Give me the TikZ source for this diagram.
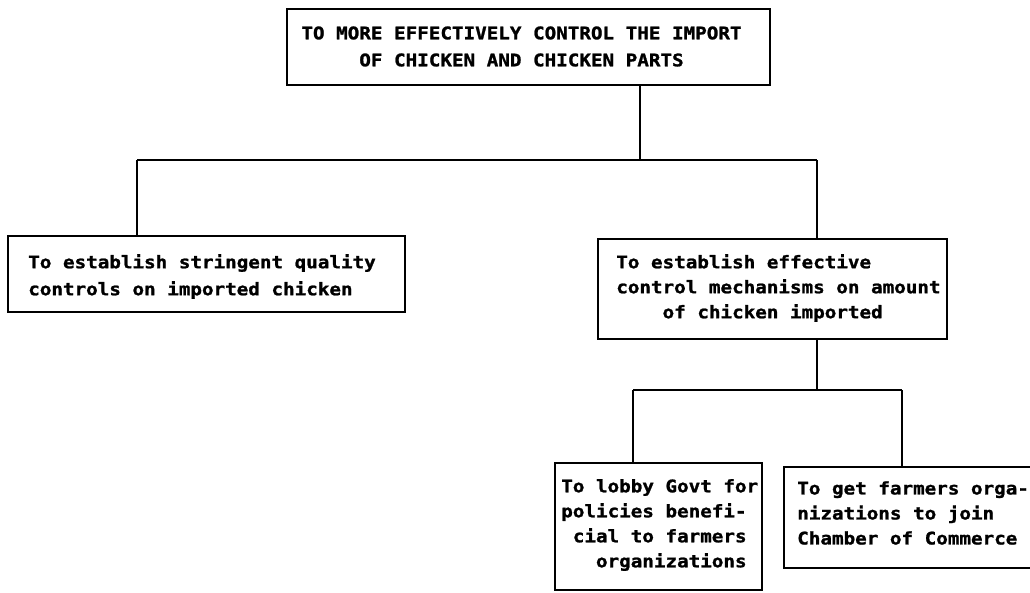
\documentclass[tikz,border=0pt]{standalone}
\usepackage{fontspec}
\newfontfamily\typewriter[FakeStretch=1.11, FakeBold=1.3]{DejaVu Sans Mono Bold}
\begin{document}
\begin{tikzpicture}[x=0.75pt, y=-0.75pt,
  boxshape/.style={draw, line width=1.8pt, rectangle, inner sep=0pt},
  txt/.style={inner sep=0pt, font=\typewriter\fontsize{13}{18.75}\selectfont},
  widetxt/.style={txt, font=\typewriter\fontsize{13}{20.25}\selectfont},
  link/.style={line width=1.8pt}]
\useasboundingbox (0,0) rectangle (1030,592);

% goal box
\node[boxshape, minimum width=483*0.75pt, minimum height=76*0.75pt] (goal) at (528.5,47) {};
\node[widetxt, align=center] (goaltext) at (521.5,46.5)
  {TO MORE EFFECTIVELY CONTROL THE IMPORT\\OF CHICKEN AND CHICKEN PARTS};

% quality objective
\node[boxshape, minimum width=397*0.75pt, minimum height=76*0.75pt] (quality) at (206.5,274) {};
\node[widetxt, align=left, anchor=west] (qualitytext) at (28,276.5)
  {To establish stringent quality\\controls on imported chicken};

% amount objective
\node[boxshape, minimum width=349*0.75pt, minimum height=100*0.75pt] (amount) at (772.5,289) {};
\node[txt, align=left, anchor=west] (amounttext) at (616,288)
  {To establish effective\\control mechanisms on amount\\\phantom{xxxx}of chicken imported};

% lobby activity
\node[boxshape, minimum width=207*0.75pt, minimum height=127*0.75pt] (lobby) at (658.5,526.5) {};
\node[txt, align=left, anchor=west] (lobbytext) at (561,525)
  {To lobby Govt for\\policies benefi-\\\phantom{x}cial to farmers\\\phantom{xxx}organizations};

% chamber activity (runs off the right edge)
\node[boxshape, minimum width=270*0.75pt, minimum height=101*0.75pt, anchor=north west] (chamber) at (783,466) {};
\node[txt, align=left, anchor=west] (chambertext) at (797,513)
  {To get farmers orga-\\nizations to join\\Chamber of Commerce};

% connectors
\draw[link] (640,0 |- goal.south) -- (640,160);
\draw[link] (137,160) -- (817,160);
\draw[link] (137,160) -- (137,0 |- quality.north);
\draw[link] (817,160) -- (817,0 |- amount.north);
\draw[link] (817,0 |- amount.south) -- (817,390);
\draw[link] (633,390) -- (902,390);
\draw[link] (633,390) -- (633,0 |- lobby.north);
\draw[link] (902,390) -- (902,0 |- chamber.north);
\end{tikzpicture}
\end{document}
